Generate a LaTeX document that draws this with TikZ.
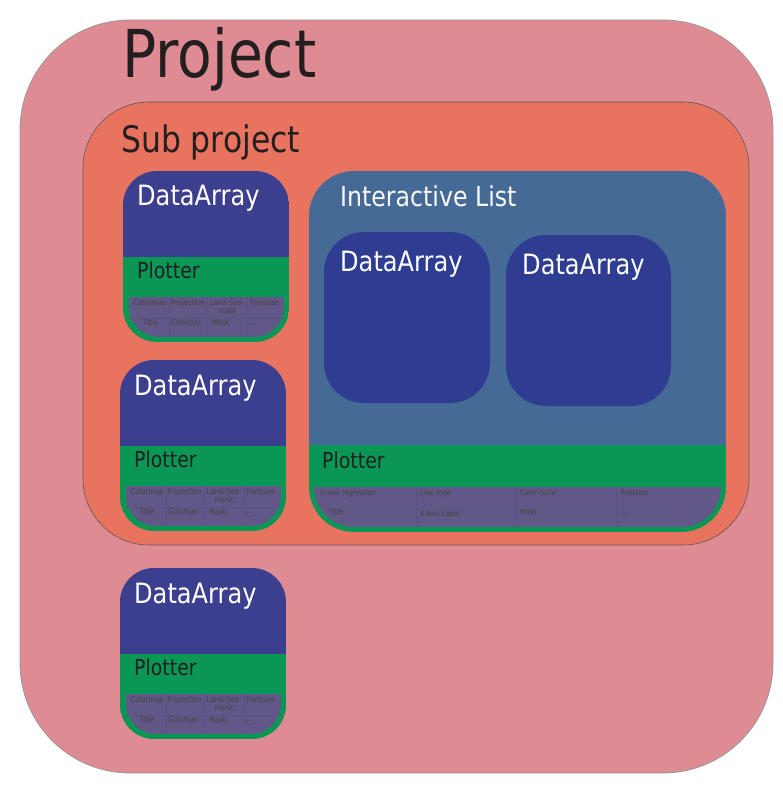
\documentclass[tikz,border=0pt]{standalone}
\usepackage{fontspec}
\setmainfont[FakeStretch=0.86]{DejaVu Sans}
\usepackage{xcolor}
\usepackage{tikz}
\usetikzlibrary{positioning}

\definecolor{projPink}{HTML}{DF8B93}
\definecolor{subSalmon}{HTML}{E8735F}
\definecolor{listBlue}{HTML}{456A96}
\definecolor{daBlue}{HTML}{3C3F8E}
\definecolor{daDeep}{HTML}{2E3D91}
\definecolor{plGreen}{HTML}{0A9654}
\definecolor{tabPurple}{HTML}{625887}
\definecolor{tabLine}{HTML}{5B5182}
\definecolor{inkDark}{HTML}{231F20}

\begin{document}
\begin{tikzpicture}[x=1pt, y=-1pt,
  title/.style={anchor=base west, inner sep=0, text=inkDark},
  dalabel/.style={anchor=base west, inner sep=0, text=white, font=\fontsize{28}{30}\selectfont},
  pllabel/.style={anchor=base west, inner sep=0, text=inkDark, font=\fontsize{22}{24}\selectfont},
  cell/.style={inner sep=0, text=inkDark!85, align=center, font=\fontsize{8}{8}\selectfont},
  lcell/.style={anchor=west, inner sep=0, text=inkDark!85, font=\fontsize{7.5}{8}\selectfont},
  gridline/.style={draw=tabLine, line width=0.5pt}]
\useasboundingbox (0,0) rectangle (783,794);
% project and sub project
\draw[fill=projPink, draw=gray!80, line width=0.8pt, rounded corners=110] (20,20) rectangle (773,773);
\node[title, font=\fontsize{66}{68}\selectfont] (proj) at (122,78) {Project};
\draw[fill=subSalmon, draw=gray!70!black, line width=0.6pt, rounded corners=66] (83,102) rectangle (749,545);
\node[title, font=\fontsize{36.5}{38}\selectfont] (sub) at (121,153) {Sub project};
% interactive list
\begin{scope}
  \clip[rounded corners=45] (309,171) rectangle (726,532);
  \fill[listBlue] (309,171) rectangle (726,445);
  \fill[plGreen] (309,445) rectangle (726,532);
  \clip[rounded corners=40] (314,400) rectangle (721,527);
  \fill[tabPurple] (314,487) rectangle (721,527);
\end{scope}
\node[anchor=base west, inner sep=0, text=white!95!gray, font=\fontsize{27.5}{30}\selectfont] (ilist) at (340,207) {Interactive List};
\fill[daDeep, rounded corners=40] (324,232) rectangle (490,403);
\fill[daDeep, rounded corners=40] (506,235) rectangle (671,406);
\node[dalabel] (da1) at (340,271) {DataArray};
\node[dalabel] (da2) at (522,274) {DataArray};
\node[pllabel] (pl1) at (322,468) {Plotter};
\foreach \sx in {416,516,616} \draw[gridline] (\sx,487) -- (\sx,527);
\node[lcell] (lr) at (320,493) {Linear regression};
\node[lcell] (ls) at (420,493) {Line style};
\node[lcell] (cc) at (520,493) {Color cycle};
\node[lcell] (fs) at (621,493) {Fontsize};
\node[lcell] (ti) at (329,512) {Title};
\node[lcell] (xl) at (420,514) {X-Axis Label};
\node[lcell] (mk) at (520,512) {Mask};
\node[lcell] (dt) at (621,514) {...};
% data array blocks with plotter
\foreach \bx/\by/\n in {123/171/a, 120/360/b, 120/568/c} {
  \begin{scope}[shift={(\bx,\by)}]
    \begin{scope}
      \clip[rounded corners=34] (0,0) rectangle (166,171);
      \fill[daBlue] (0,0) rectangle (166,86);
      \fill[plGreen] (0,86) rectangle (166,171);
      \clip[rounded corners=30] (6,-40) rectangle (161,166);
      \fill[tabPurple] (6,126) rectangle (161,166);
    \end{scope}
    \foreach \sx in {46,84,124} \draw[gridline] (\sx,126) -- (\sx,166);
    \draw[gridline] (6,147) -- (161,147);
    \node[dalabel] (da\n) at (14,35) {DataArray};
    \node[pllabel] (pl\n) at (14,107) {Plotter};
    \node[cell] (cm\n) at (27,132) {Colormap};
    \node[cell] (pj\n) at (65,132) {Projection};
    \node[cell, anchor=north] (lm\n) at (104,128) {Land-Sea-\\mask};
    \node[cell] (fs\n) at (141,132) {Fontsize};
    \node[cell] (ti\n) at (27,152) {Title};
    \node[cell] (cb\n) at (63,152) {Colorbar};
    \node[cell] (mk\n) at (98,152) {Mask};
    \node[cell] (dt\n) at (129,153) {...};
  \end{scope}}
\end{tikzpicture}
\end{document}
